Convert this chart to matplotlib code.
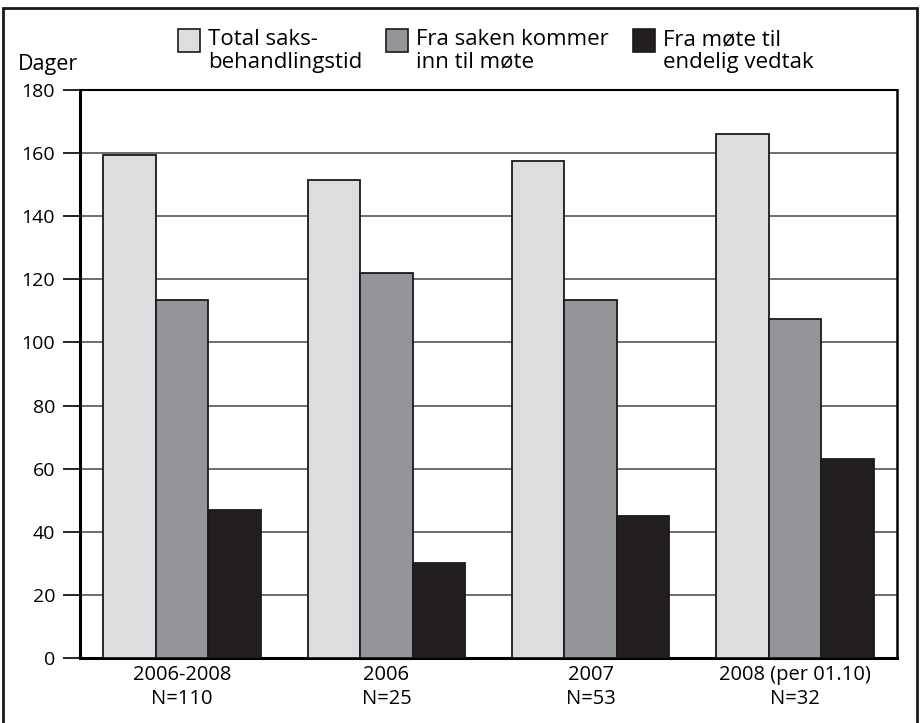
import matplotlib
matplotlib.use("Agg")
import numpy as np
import matplotlib.pyplot as plt
from matplotlib.patches import Rectangle

# Saksbehandlingstid i dager per periode
groups = ["2006-2008\nN=110", "2006\nN=25", "2007\nN=53", "2008 (per 01.10)\nN=32"]
total = [159.3, 151.5, 157.5, 166.0]
inn_til_mote = [113.5, 122.0, 113.5, 107.5]
mote_til_vedtak = [47.0, 30.0, 45.0, 63.0]

series_labels = ["Total saks-\nbehandlingstid",
                 "Fra saken kommer\ninn til møte",
                 "Fra møte til\nendelig vedtak"]
series_colors = ["#dcdddf", "#939598", "#231f20"]
yticks = [0, 20, 40, 60, 80, 100, 120, 140, 160, 180]

plt.rcParams["font.family"] = ["Open Sans", "DejaVu Sans"]

fig = plt.figure(figsize=(9.21, 7.23), dpi=100)
ax = fig.add_axes([80 / 921, 1 - 658 / 723, 817 / 921, 568 / 723])

x = np.arange(len(groups))
w = 0.257
for i, (vals, col) in enumerate(zip([total, inn_til_mote, mote_til_vedtak], series_colors)):
    ax.bar(x + (i - 1) * w, vals, width=w, color=col, edgecolor="#1a1a1a",
           linewidth=1.3, zorder=3)

ax.set_xlim(-0.5, 3.5)
ax.set_ylim(0, 180)
ax.set_yticks(yticks)
ax.set_yticklabels([str(t) for t in yticks], fontsize=14)
ax.set_xticks(x)
ax.set_xticklabels(groups, fontsize=14.5, linespacing=1.3)
ax.tick_params(axis="x", length=0, pad=5)
ax.tick_params(axis="y", length=12, width=1.2, pad=6, direction="out")

for t in yticks[1:-1]:
    ax.axhline(t, color="#555555", linewidth=1.2, zorder=1)

ax.spines["left"].set_linewidth(2.2)
ax.spines["bottom"].set_linewidth(2.2)
ax.spines["top"].set_linewidth(1.5)
ax.spines["right"].set_linewidth(1.8)

fig.text(18 / 921, 1 - 70 / 723, "Dager", fontsize=15.5, va="baseline")

# legend boxes and labels
legend_x = [178, 386, 633]
for lx, lab, col in zip(legend_x, series_labels, series_colors):
    fig.patches.append(Rectangle((lx / 921, 1 - 52 / 723), 22 / 921, 23 / 723,
                                 transform=fig.transFigure, facecolor=col,
                                 edgecolor="#1a1a1a", linewidth=1.2))
    fig.text((lx + 30) / 921, 1 - 29 / 723, lab, fontsize=16, va="top",
             linespacing=1.12)

# outer frame
fig.patches.append(Rectangle((3 / 921, -0.05), 914 / 921, 1.05 - 8 / 723,
                             transform=fig.transFigure, fill=False,
                             edgecolor="#1a1a1a", linewidth=2))

fig.savefig("out.png", dpi=100)
